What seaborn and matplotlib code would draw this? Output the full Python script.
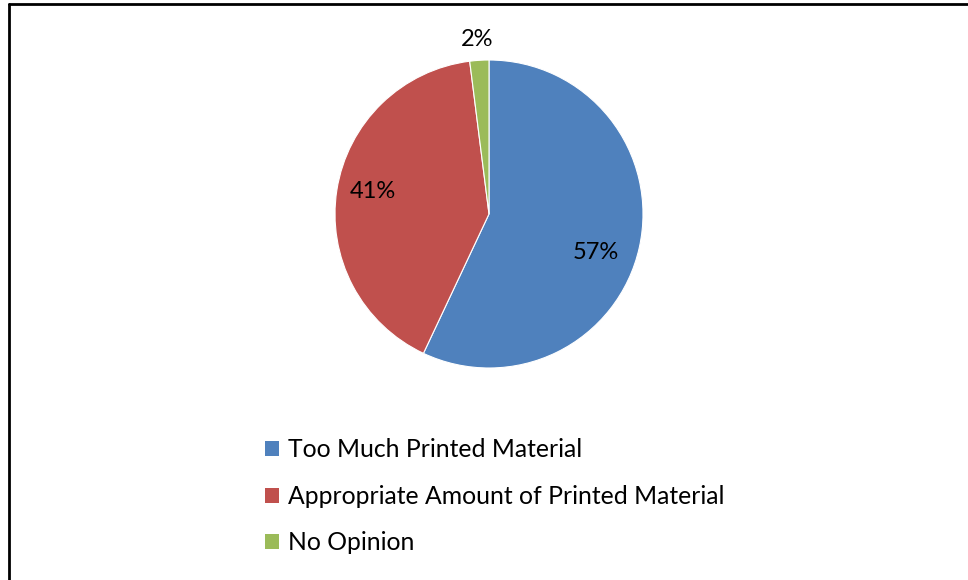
import matplotlib
matplotlib.use("Agg")
import matplotlib.pyplot as plt
import seaborn as sns
from matplotlib.patches import Patch
from matplotlib.lines import Line2D

sns.set_theme(style="white")
plt.rcParams['font.family'] = ['Lato', 'DejaVu Sans']
plt.rcParams['text.color'] = 'black'

categories = ["Too Much Printed Material",
              "Appropriate Amount of Printed Material",
              "No Opinion"]
values = [57, 41, 2]
pct_labels = ["57%", "41%", "2%"]
colors = ["#4F81BD", "#C0504D", "#9BBB59"]
# label anchor positions in pie-radius units (relative to center)
label_pos = [(0.695, -0.247), (-0.753, 0.149), (-0.078, 1.13)]

W, H = 968, 580
fig = plt.figure(figsize=(W / 100, H / 100), dpi=100)
fig.patch.set_facecolor("white")

cx, cy, r = 489, 214, 154
ax = fig.add_axes([(cx - r) / W, (H - cy - r) / H, 2 * r / W, 2 * r / H])
ax.pie(values, colors=colors, startangle=90, counterclock=False,
       wedgeprops=dict(linewidth=0.8, edgecolor="white"))
ax.set_xlim(-1, 1)
ax.set_ylim(-1, 1)
ax.set_aspect("auto")
ax.axis("off")

for txt, (x, y) in zip(pct_labels, label_pos):
    ax.text(x, y, txt, ha="center", va="center", fontsize=17, color="black",
            clip_on=False)

handles = [Patch(facecolor=c, edgecolor="none") for c in colors]
leg = fig.legend(handles, categories, loc="upper left",
                 bbox_to_anchor=(253 / W, 1 - 426 / H), frameon=False,
                 fontsize=17.8, handlelength=0.57, handleheight=0.57,
                 handletextpad=0.33, labelspacing=0.95, borderpad=0,
                 labelcolor="black")

# chart frame (top and left edges visible)
fig.add_artist(Line2D([8.5 / W, 8.5 / W], [0, 1 - 3.5 / H], color="black",
                      linewidth=2.0, transform=fig.transFigure))
fig.add_artist(Line2D([8.5 / W, 1], [1 - 3.5 / H, 1 - 3.5 / H], color="black",
                      linewidth=2.0, transform=fig.transFigure))

fig.savefig("out.png", dpi=100, facecolor="white")
